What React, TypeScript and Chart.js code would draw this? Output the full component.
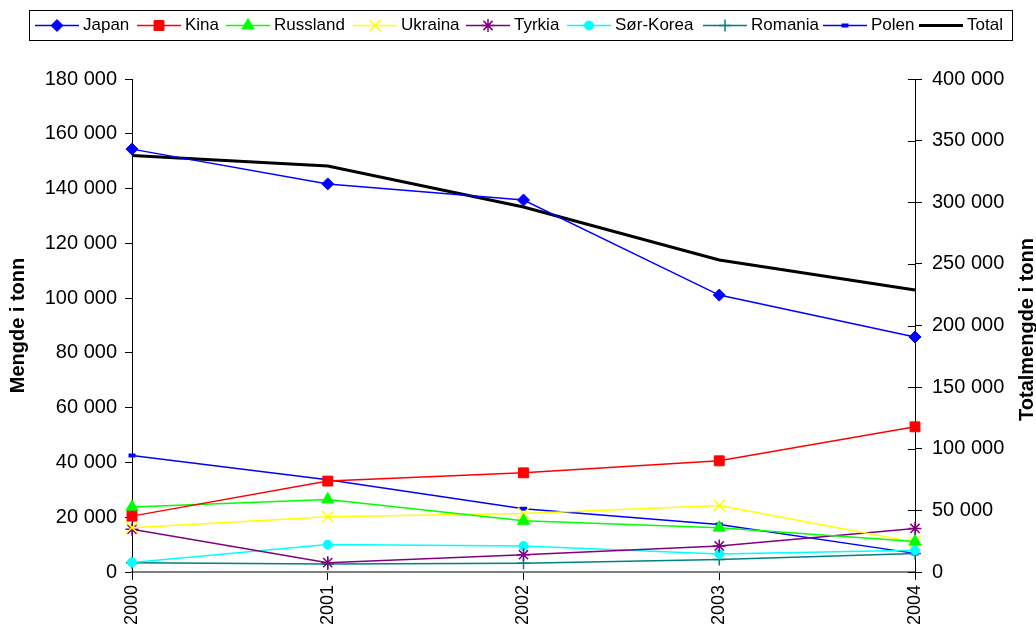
import React, { useEffect, useRef } from 'react';
import { Chart, registerables } from 'chart.js';
import { drawPoint } from 'chart.js/helpers';

Chart.register(...registerables);

const FONT = "'Liberation Sans', Arial, sans-serif";

const years = ['2000', '2001', '2002', '2003', '2004'];

const japan = [154400, 141700, 135800, 101100, 85800];
const kina = [20400, 33200, 36200, 40600, 53000];
const russland = [23700, 26500, 18700, 16200, 11100];
const ukraina = [16200, 20200, 21400, 24300, 10900];
const tyrkia = [15600, 3400, 6300, 9500, 15900];
const sorKorea = [3500, 10000, 9500, 6600, 7900];
const romania = [3400, 2900, 3200, 4600, 6800];
const polen = [42500, 33700, 23100, 17300, 6800];
const total = [338000, 329400, 296100, 253100, 228800];

const seriesNames = ['Japan', 'Kina', 'Russland', 'Ukraina', 'Tyrkia', 'Sør-Korea', 'Romania', 'Polen', 'Total'];
const seriesValues = [japan, kina, russland, ukraina, tyrkia, sorKorea, romania, polen, total];
const seriesColors = ['#0000FF', '#FF0000', '#00FF00', '#FFFF00', '#800080', '#00FFFF', '#008080', '#0000FF', '#000000'];
const seriesPointStyles: any[] = ['rectRot', 'rect', 'triangle', 'crossRot', 'star', 'circle', 'cross', 'line', false];
const seriesPointRadius = [6, 7, 7, 8, 6.5, 4.5, 6, 3.5, 0];
const seriesPointBorder = [1, 1, 1, 1.5, 1.5, 1, 1.5, 4, 0];

const leftTickStep = 20000;
const leftMax = 180000;
const rightTickStep = 50000;
const rightMax = 400000;

// legend item x-positions (layout only)
const legendItemX = [35, 137, 226, 353, 466, 567, 703, 823, 919];

const fmt = (v: number) => String(v).replace(/\B(?=(\d{3})+(?!\d))/g, ' ');

const boxLegend = {
  id: 'boxLegend',
  afterDraw(chart: any) {
    const ctx = chart.ctx;
    ctx.save();
    ctx.strokeStyle = '#000';
    ctx.lineWidth = 1;
    ctx.strokeRect(29.5, 10.5, 983, 30);
    ctx.font = `17px ${FONT}`;
    ctx.textBaseline = 'middle';
    ctx.textAlign = 'left';
    const y = 25.5;
    chart.data.datasets.forEach((ds: any, i: number) => {
      const x = legendItemX[i];
      ctx.strokeStyle = ds.borderColor;
      ctx.lineWidth = ds.borderWidth;
      ctx.beginPath();
      ctx.moveTo(x, y);
      ctx.lineTo(x + 44, y);
      ctx.stroke();
      if (ds.pointStyle) {
        ctx.fillStyle = ds.borderColor;
        ctx.strokeStyle = ds.borderColor;
        ctx.lineWidth = ds.pointBorderWidth;
        drawPoint(ctx, { pointStyle: ds.pointStyle, radius: ds.pointRadius, rotation: 0, borderWidth: ds.pointBorderWidth }, x + 22, y);
      }
      ctx.fillStyle = '#000';
      ctx.fillText(ds.label, x + 48, y);
    });
    ctx.restore();
  },
};

const axisExtras = {
  id: 'axisExtras',
  afterDraw(chart: any) {
    const ctx = chart.ctx;
    const area = chart.chartArea;
    const s = chart.scales.y2;
    ctx.save();
    ctx.strokeStyle = '#000';
    ctx.lineWidth = 1;
    s.ticks.forEach((_t: any, i: number) => {
      const py = Math.round(s.getPixelForTick(i)) + 0.5;
      ctx.beginPath();
      ctx.moveTo(s.left - 7, py);
      ctx.lineTo(s.left, py);
      ctx.stroke();
    });
    ctx.fillStyle = '#000';
    ctx.font = `bold 20px ${FONT}`;
    ctx.textAlign = 'center';
    ctx.textBaseline = 'middle';
    const cy = (area.top + area.bottom) / 2;
    ctx.translate(18, cy);
    ctx.rotate(-Math.PI / 2);
    ctx.fillText('Mengde i tonn', 0, 0);
    ctx.restore();
    ctx.save();
    ctx.fillStyle = '#000';
    ctx.font = `bold 20px ${FONT}`;
    ctx.textAlign = 'center';
    ctx.textBaseline = 'middle';
    ctx.translate(1027, cy + 4);
    ctx.rotate(-Math.PI / 2);
    ctx.fillText('Totalmengde i tonn', 0, 0);
    ctx.restore();
  },
};

export default function App() {
  const ref = useRef<HTMLCanvasElement | null>(null);
  useEffect(() => {
    document.body.style.margin = '0';
    const canvas = ref.current;
    if (!canvas) return;
    const datasets = seriesNames.map((name, i) => ({
      label: name,
      data: seriesValues[i],
      yAxisID: i === 8 ? 'y2' : 'y',
      borderColor: seriesColors[i],
      backgroundColor: seriesColors[i],
      borderWidth: i === 8 ? 3 : 1.5,
      pointStyle: seriesPointStyles[i],
      pointRadius: seriesPointRadius[i],
      pointHoverRadius: seriesPointRadius[i],
      pointBorderWidth: seriesPointBorder[i],
      pointBackgroundColor: seriesColors[i],
      pointBorderColor: seriesColors[i],
      tension: 0,
      fill: false,
    }));
    const chart = new Chart(canvas, {
      type: 'line',
      data: { labels: years, datasets },
      plugins: [boxLegend, axisExtras],
      options: {
        animation: false,
        responsive: false,
        devicePixelRatio: 1,
        layout: { padding: { top: 79, left: 0, right: 0, bottom: 0 } },
        plugins: { legend: { display: false }, tooltip: { enabled: false } },
        scales: {
          x: {
            offset: false,
            grid: { display: true, drawOnChartArea: false, drawTicks: true, tickLength: 8, color: '#000', lineWidth: 1 },
            border: { display: true, color: '#808080', width: 2 },
            ticks: { minRotation: 90, maxRotation: 90, color: '#000', padding: 5, font: { family: FONT, size: 18 } },
            afterFit: (s: any) => { s.height = 53; },
          },
          y: {
            position: 'left',
            min: 0,
            max: leftMax,
            grid: { display: true, drawOnChartArea: false, tickLength: 7, color: '#000', lineWidth: 1 },
            border: { display: true, color: '#000', width: 1 },
            ticks: { stepSize: leftTickStep, color: '#000', padding: 8, font: { family: FONT, size: 20 }, callback: (v: any) => fmt(v) },
            afterFit: (s: any) => { s.width = 132; },
          },
          y2: {
            position: 'right',
            min: 0,
            max: rightMax,
            grid: { display: true, drawOnChartArea: false, tickLength: 7, color: '#000', lineWidth: 1 },
            border: { display: true, color: '#000', width: 1 },
            ticks: { stepSize: rightTickStep, color: '#000', padding: 10, font: { family: FONT, size: 20 }, callback: (v: any) => fmt(v) },
            afterFit: (s: any) => { s.width = 121; },
          },
        },
      } as any,
    });
    return () => chart.destroy();
  }, []);
  return <canvas ref={ref} width={1036} height={625} style={{ display: 'block' }} />;
}
